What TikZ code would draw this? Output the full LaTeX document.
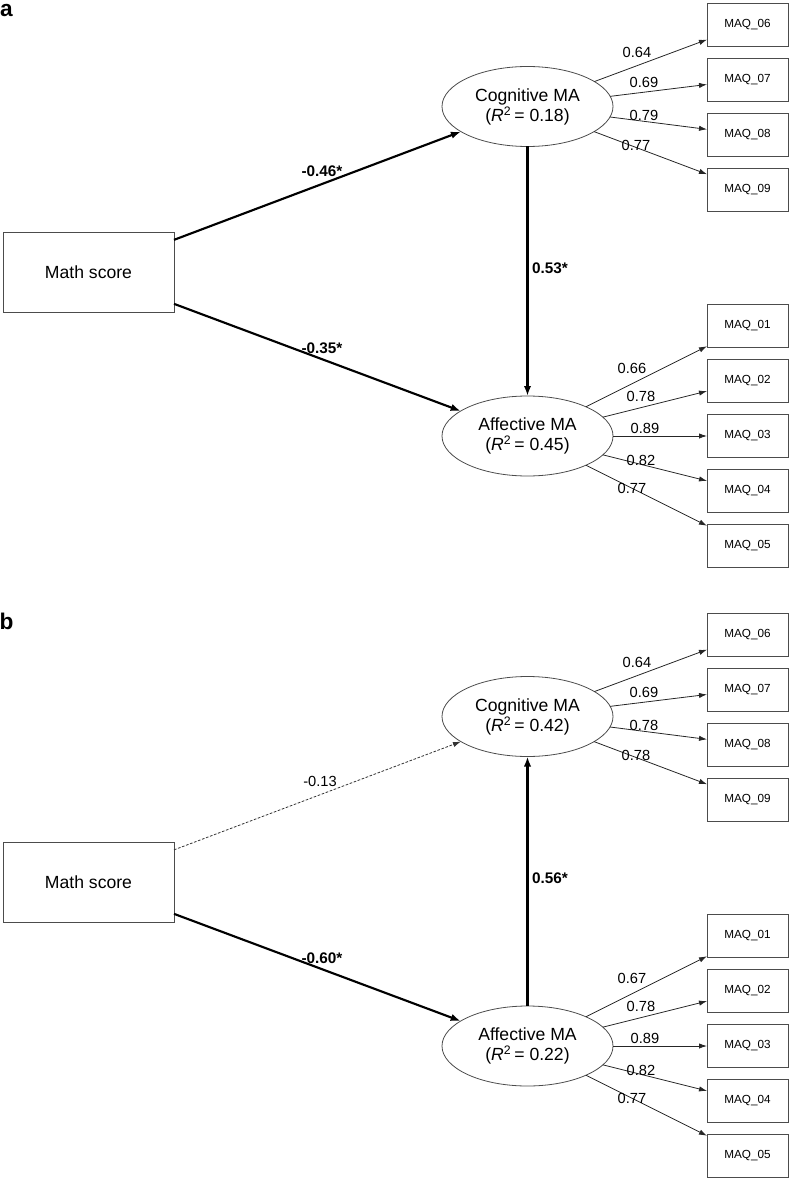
\documentclass[tikz,border=0pt]{standalone}
\usepackage{fontspec}
\setmainfont{Liberation Sans}
\usetikzlibrary{arrows.meta,shapes.geometric}
\begin{document}
\begin{tikzpicture}[x=0.75pt,y=-0.75pt,
  every node/.style={inner sep=0pt,outer sep=0pt},
  obs/.style={draw=black!70,line width=0.6pt,minimum width=128.25pt,minimum height=60pt,font=\fontsize{13.2}{15}\selectfont},
  item/.style={draw=black!70,line width=0.6pt,minimum width=60.75pt,minimum height=32.25pt,font=\fontsize{8.8}{10}\selectfont},
  lat/.style={draw=black!70,ellipse,line width=0.6pt,minimum width=128.25pt,minimum height=60pt,align=center,font=\fontsize{13.2}{15}\selectfont},
  load/.style={draw=black!85,line width=0.6pt,-{Latex[length=6pt,width=4pt]}},
  strong/.style={draw=black,line width=1.6pt,-{Latex[length=7.5pt,width=5.5pt]}},
  ns/.style={draw=black!80,line width=0.6pt,dash pattern=on 2pt off 1.2pt,-{Latex[length=6pt,width=4pt]}},
  lv/.style={font=\fontsize{11}{12}\selectfont},
  cf/.style={font=\bfseries\fontsize{11.5}{12}\selectfont},
  nf/.style={font=\fontsize{11}{12}\selectfont},
  panel/.style={font=\bfseries\fontsize{17}{18}\selectfont}
]
\useasboundingbox (0,0) rectangle (791,1180);

% ---------------- panel a ----------------
\node[panel] (pa) at (6.5,11) {a};
\node[obs] (msA) at (88.5,272) {Math score};
\node[lat] (cogA) at (527.5,106.5) {Cognitive MA\\(\textit{R}\textsuperscript{2}\,= 0.18)};
\node[lat] (affA) at (527.5,436) {Affective MA\\(\textit{R}\textsuperscript{2}\,= 0.45)};
\node[item] (m06A) at (747.5,24.5) {MAQ\_06};
\node[item] (m07A) at (747.5,79.5) {MAQ\_07};
\node[item] (m08A) at (747.5,134.5) {MAQ\_08};
\node[item] (m09A) at (747.5,189.5) {MAQ\_09};
\node[item] (m01A) at (747.5,326) {MAQ\_01};
\node[item] (m02A) at (747.5,381) {MAQ\_02};
\node[item] (m03A) at (747.5,436) {MAQ\_03};
\node[item] (m04A) at (747.5,491) {MAQ\_04};
\node[item] (m05A) at (747.5,546) {MAQ\_05};

\draw[strong] (msA) -- (cogA);
\draw[strong] (msA) -- (affA);
\draw[strong] (cogA) -- (affA);
\foreach \t in {m06A,m07A,m08A,m09A} \draw[load] (cogA) -- (\t);
\foreach \t in {m01A,m02A,m03A,m04A,m05A} \draw[load] (affA) -- (\t);

\node[cf] (c1A) at (322,171) {-0.46*};
\node[cf] (c2A) at (322,348) {-0.35*};
\node[cf] (c3A) at (550,268) {0.53*};
\node[lv] (l06A) at (637,52) {0.64};
\node[lv] (l07A) at (644,82.5) {0.69};
\node[lv] (l08A) at (644,115.5) {0.79};
\node[lv] (l09A) at (636,145) {0.77};
\node[lv] (l01A) at (632,368) {0.66};
\node[lv] (l02A) at (641,396) {0.78};
\node[lv] (l03A) at (645,428) {0.89};
\node[lv] (l04A) at (641,460) {0.82};
\node[lv] (l05A) at (632,488) {0.77};

% ---------------- panel b ----------------
\node[panel] (pb) at (6.5,621) {b};
\node[obs] (msB) at (88.5,882) {Math score};
\node[lat] (cogB) at (527.5,716.5) {Cognitive MA\\(\textit{R}\textsuperscript{2}\,= 0.42)};
\node[lat] (affB) at (527.5,1046) {Affective MA\\(\textit{R}\textsuperscript{2}\,= 0.22)};
\node[item] (m06B) at (747.5,634.5) {MAQ\_06};
\node[item] (m07B) at (747.5,689.5) {MAQ\_07};
\node[item] (m08B) at (747.5,744.5) {MAQ\_08};
\node[item] (m09B) at (747.5,799.5) {MAQ\_09};
\node[item] (m01B) at (747.5,936) {MAQ\_01};
\node[item] (m02B) at (747.5,991) {MAQ\_02};
\node[item] (m03B) at (747.5,1046) {MAQ\_03};
\node[item] (m04B) at (747.5,1101) {MAQ\_04};
\node[item] (m05B) at (747.5,1156) {MAQ\_05};

\draw[ns] (msB) -- (cogB);
\draw[strong] (msB) -- (affB);
\draw[strong] (affB) -- (cogB);
\foreach \t in {m06B,m07B,m08B,m09B} \draw[load] (cogB) -- (\t);
\foreach \t in {m01B,m02B,m03B,m04B,m05B} \draw[load] (affB) -- (\t);

\node[nf] (c1B) at (320,781) {-0.13};
\node[cf] (c2B) at (322,958) {-0.60*};
\node[cf] (c3B) at (550,878) {0.56*};
\node[lv] (l06B) at (637,662) {0.64};
\node[lv] (l07B) at (644,692.5) {0.69};
\node[lv] (l08B) at (644,725.5) {0.78};
\node[lv] (l09B) at (636,755) {0.78};
\node[lv] (l01B) at (632,978) {0.67};
\node[lv] (l02B) at (641,1006) {0.78};
\node[lv] (l03B) at (645,1038) {0.89};
\node[lv] (l04B) at (641,1070) {0.82};
\node[lv] (l05B) at (632,1098) {0.77};
\end{tikzpicture}
\end{document}
